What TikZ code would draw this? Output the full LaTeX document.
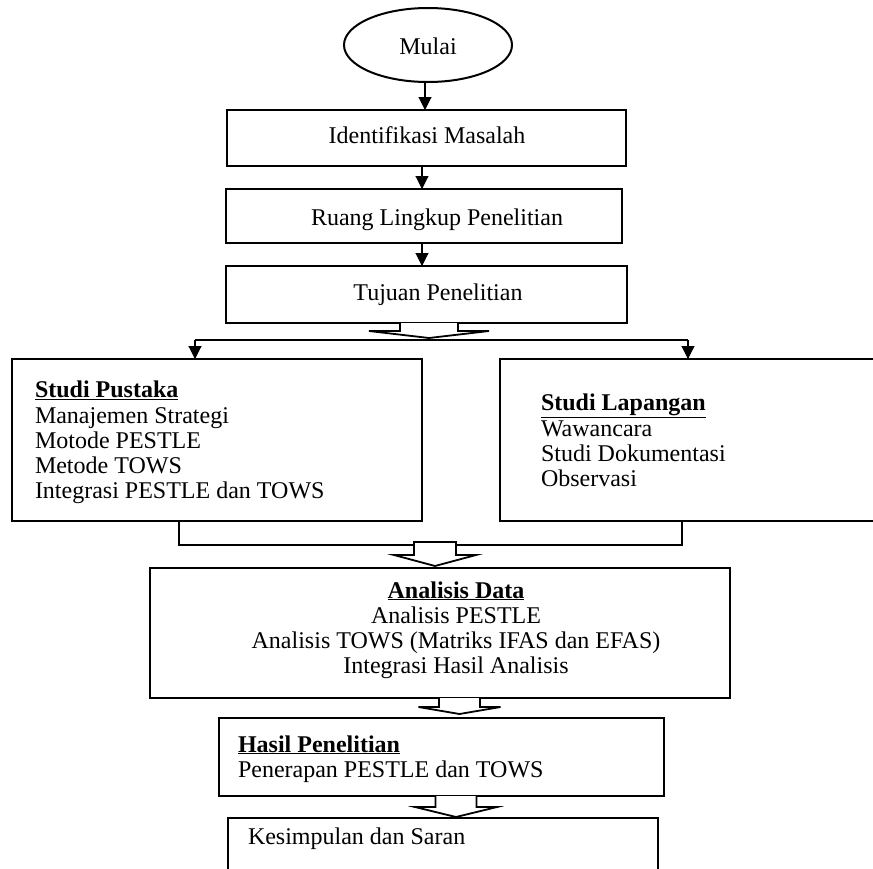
\documentclass[tikz,border=0pt]{standalone}
\usepackage{fontspec}
\setmainfont{Liberation Serif}
\usetikzlibrary{arrows.meta,shapes.geometric,calc}
\begin{document}
\begin{tikzpicture}[x=1pt,y=-1pt,
  every node/.style={inner sep=0pt,outer sep=0pt},
  txt/.style={font=\fontsize{24}{25}\selectfont},
  box/.style={draw,line width=2pt,rectangle,anchor=north west},
  conn/.style={line width=1.1pt},
  arr/.style={line width=1.1pt,-{Triangle[width=13pt,length=13pt]}},
  blockarr/.style={draw,line width=1.8pt,fill=white,line join=miter}]
\useasboundingbox (0,0) rectangle (873,868);
\clip (0,0) rectangle (873,868);
% boxes
\node[draw,ellipse,line width=2pt,minimum width=168pt,minimum height=74pt] (mulai) at (428,45) {};
\node[box,minimum width=399pt,minimum height=56pt] (id) at (227,110) {};
\node[box,minimum width=396pt,minimum height=54pt] (ru) at (226,189) {};
\node[box,minimum width=401pt,minimum height=57pt] (tu) at (226,266) {};
\node[box,minimum width=410pt,minimum height=162pt] (sp) at (12,359) {};
\node[box,minimum width=420pt,minimum height=162pt] (sl) at (500,359) {};
\node[box,minimum width=580pt,minimum height=130pt] (an) at (150,568) {};
\node[box,minimum width=445pt,minimum height=78pt] (ha) at (219,718) {};
\node[box,minimum width=430pt,minimum height=80pt] (ke) at (228,818) {};
% texts
\node[txt,anchor=base] (tmul) at (428,54) {Mulai};
\node[txt,anchor=base] (tid) at (427,143) {Identifikasi Masalah};
\node[txt,anchor=base] (tru) at (437,225) {Ruang Lingkup Penelitian};
\node[txt,anchor=base] (ttu) at (438,300) {Tujuan Penelitian};
\node[txt,anchor=base west] (sp0) at (35,397) {\underline{\textbf{Studi Pustaka}}};
\node[txt,anchor=base west] (sp1) at (35,423) {Manajemen Strategi};
\node[txt,anchor=base west] (sp2) at (35,448) {Motode PESTLE};
\node[txt,anchor=base west] (sp3) at (35,473) {Metode TOWS};
\node[txt,anchor=base west] (sp4) at (35,498) {Integrasi PESTLE dan TOWS};
\node[txt,anchor=base west] (sl0) at (541,410) {\underline{\textbf{Studi Lapangan}}};
\node[txt,anchor=base west] (sl1) at (541,436) {Wawancara};
\node[txt,anchor=base west] (sl2) at (541,461) {Studi Dokumentasi};
\node[txt,anchor=base west] (sl3) at (541,486) {Observasi};
\node[txt,anchor=base] (an0) at (456,598) {\underline{\textbf{Analisis Data}}};
\node[txt,anchor=base] (an1) at (456,623) {Analisis PESTLE};
\node[txt,anchor=base] (an2) at (456,648) {Analisis TOWS (Matriks IFAS dan EFAS)};
\node[txt,anchor=base] (an3) at (456,673) {Integrasi Hasil Analisis};
\node[txt,anchor=base west] (ha0) at (238,752) {\underline{\textbf{Hasil Penelitian}}};
\node[txt,anchor=base west] (ha1) at (238,777) {Penerapan PESTLE dan TOWS};
\node[txt,anchor=base west] (ke0) at (248,844) {Kesimpulan dan Saran};
% simple arrows
\coordinate (c1) at (425,0);
\coordinate (c2) at (422,0);
\draw[arr] (mulai.south -| c1) -- (c1 |- id.north);
\draw[arr] (id.south -| c2) -- (c2 |- ru.north);
\draw[arr] (ru.south -| c2) -- (c2 |- tu.north);
% split
\coordinate (splL) at (195,340);
\coordinate (splR) at (688,340);
\draw[conn] (splL) -- (splR);
\draw[arr] (splL) -- (splL |- sp.north);
\draw[arr] (splR) -- (splR |- sl.north);
\draw[blockarr,shift={(tu.south -| 429,0)}] (-29,0) -- (-29,8) -- (-60,8) -- (0,15) -- (60,8) -- (29,8) -- (29,0);
% merge
\coordinate (mL) at (179,545);
\coordinate (mR) at (682,545);
\draw[conn] (mL |- sp.south) -- (mL) -- (mR) -- (mR |- sl.south);
\coordinate (b2) at (435,542);
\draw[blockarr,shift={(b2)}] (-21,0) -- (-21,13) -- (-41,13) -- (0,24) -- (41,13) -- (21,13) -- (21,0) -- cycle;
\draw[blockarr,shift={(an.south -| 459.5,0)}] (-20.5,0) -- (-20.5,9) -- (-41,9) -- (0,16) -- (41,9) -- (20.5,9) -- (20.5,0);
\draw[blockarr,shift={(ha.south -| 456,0)}] (-20.5,0) -- (-20.5,11) -- (-41,11) -- (0,21) -- (41,11) -- (20.5,11) -- (20.5,0);
\end{tikzpicture}
\end{document}
